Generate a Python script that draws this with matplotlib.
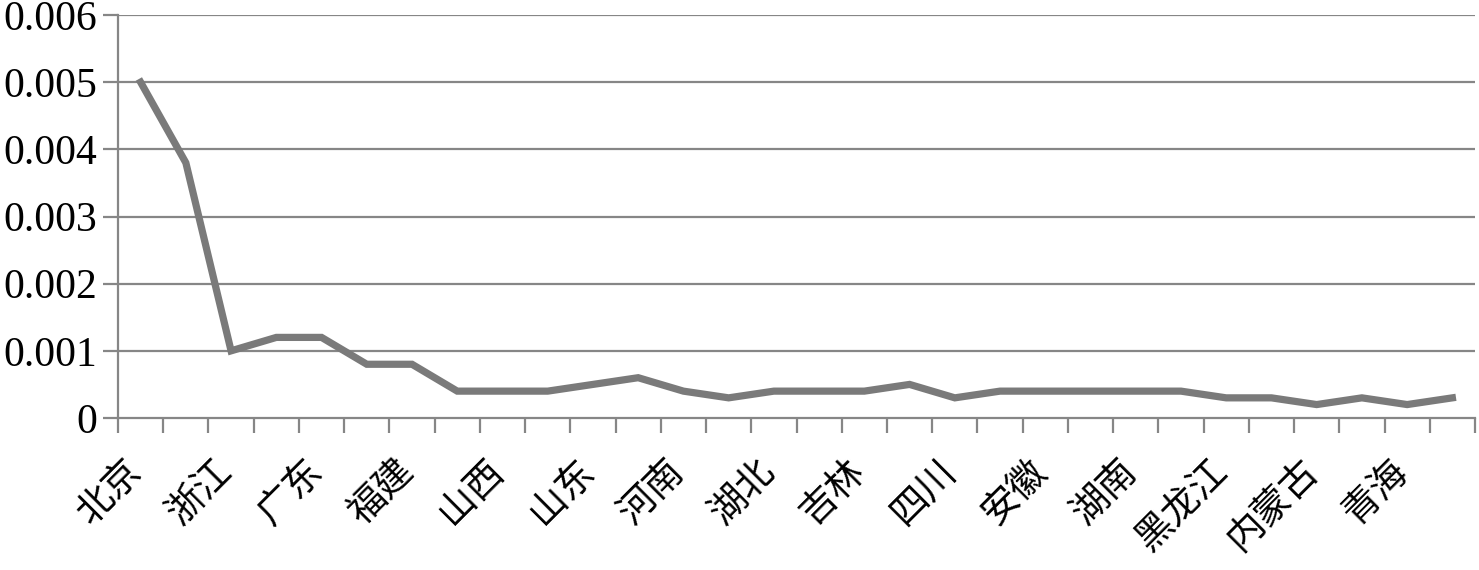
import matplotlib
matplotlib.use("Agg")
import matplotlib.pyplot as plt
import matplotlib.transforms as mtransforms
import numpy as np

provinces = ["北京", "上海", "浙江", "天津", "广东", "江苏", "福建", "辽宁",
             "山西", "陕西", "山东", "重庆", "河南", "河北", "湖北", "宁夏",
             "吉林", "海南", "四川", "江西", "安徽", "广西", "湖南", "甘肃",
             "黑龙江", "新疆", "内蒙古", "云南", "青海", "贵州"]
values = [0.0050, 0.0038, 0.0010, 0.0012, 0.0012, 0.0008, 0.0008, 0.0004,
          0.0004, 0.0004, 0.0005, 0.0006, 0.0004, 0.0003, 0.0004, 0.0004,
          0.0004, 0.0005, 0.0003, 0.0004, 0.0004, 0.0004, 0.0004, 0.0004,
          0.0003, 0.0003, 0.0002, 0.0003, 0.0002, 0.0003]
yticks = [0, 0.001, 0.002, 0.003, 0.004, 0.005, 0.006]
ytick_labels = ["0", "0.001", "0.002", "0.003", "0.004", "0.005", "0.006"]

gray = "#868686"
fig = plt.figure(figsize=(14.79, 5.70), dpi=100)
ax = fig.add_axes([118/1479, 1-418/570, (1475-118)/1479, (418-15)/570])

x = np.arange(len(provinces))
ax.plot(x, values, color="#7a7a7a", lw=5.2, solid_joinstyle="miter", zorder=3)

ax.set_xlim(-0.5, len(provinces) - 0.5)
ax.set_ylim(0, 0.006)

ax.set_yticks(yticks)
ax.set_yticklabels(ytick_labels, family="Liberation Serif", fontsize=30)
ax.tick_params(axis="y", length=11, width=1.6, color=gray, pad=4)
for yv in yticks[1:]:
    ax.axhline(yv, color=gray, lw=1.6, zorder=1)

ax.set_xticks(np.arange(len(provinces) + 1) - 0.5)
ax.set_xticklabels([])
ax.tick_params(axis="x", which="major", length=11, width=1.6, color=gray)
ax.set_xticks(x, minor=True)
ax.set_xticklabels([p if i % 2 == 0 else "" for i, p in enumerate(provinces)],
                   minor=True, family=["Noto Sans CJK SC", "DejaVu Sans"],
                   fontsize=27, rotation=45, ha="right", va="top")
ax.tick_params(axis="x", which="minor", length=0, pad=24)
offset = mtransforms.ScaledTranslation(9/100, 0, fig.dpi_scale_trans)
for lbl in ax.xaxis.get_minorticklabels():
    lbl.set_transform(lbl.get_transform() + offset)

for s in ["top", "right"]:
    ax.spines[s].set_visible(False)
for s in ["left", "bottom"]:
    ax.spines[s].set_color(gray)
    ax.spines[s].set_linewidth(1.6)

fig.savefig("out.png", dpi=100, facecolor="white")
